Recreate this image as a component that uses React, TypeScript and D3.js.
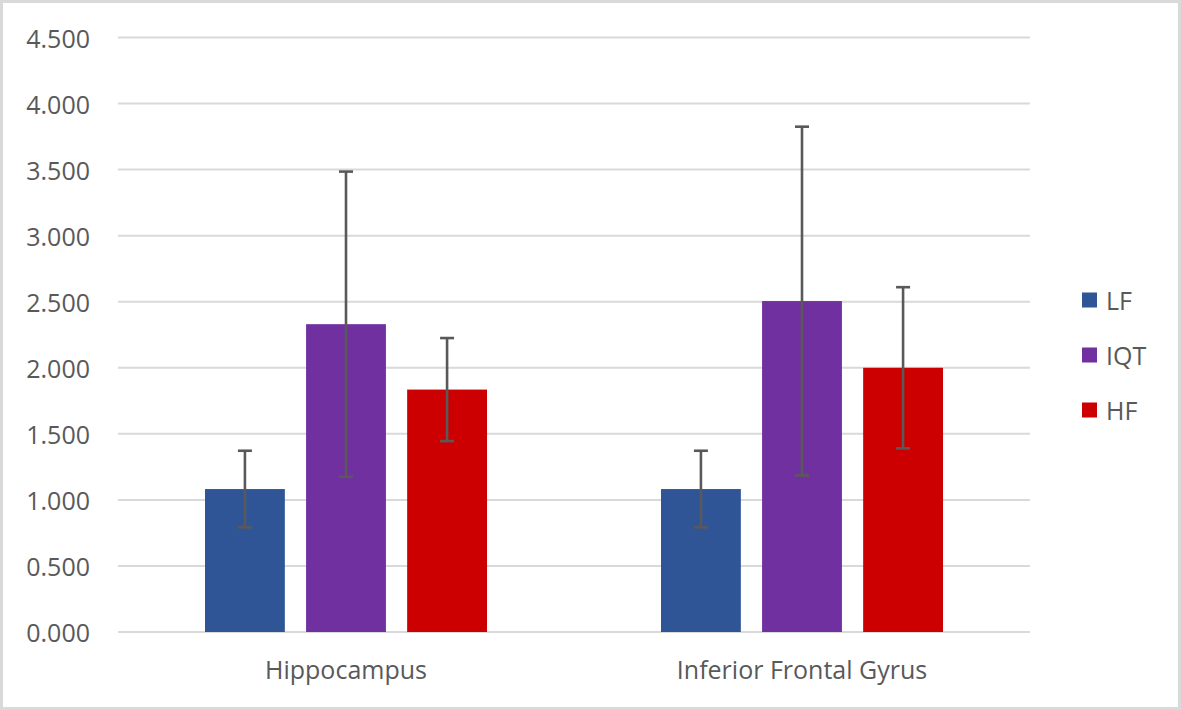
import React from "react";
import * as d3 from "d3";

const categories = ["Hippocampus", "Inferior Frontal Gyrus"];
const seriesNames = ["LF", "IQT", "HF"];
const seriesColors = ["#2F5597", "#7030A0", "#CC0000"];
const valuesLF = [1.082, 1.082];
const valuesIQT = [2.33, 2.505];
const valuesHF = [1.835, 2.0];
const errLF = [0.29, 0.29];
const errIQT = [1.155, 1.32];
const errHF = [0.39, 0.61];
const yTicks = [0, 0.5, 1, 1.5, 2, 2.5, 3, 3.5, 4, 4.5];

const W = 1181;
const H = 710;
const FONT = "'Segoe UI', 'Open Sans', sans-serif";

export default function App() {
  const values = [valuesLF, valuesIQT, valuesHF];
  const errs = [errLF, errIQT, errHF];
  const plotL = 118, plotR = 1030, plotT = 37.5, plotB = 632;
  const y = d3.scaleLinear().domain([0, 4.5]).range([plotB, plotT]);
  const x0 = d3.scaleBand().domain(categories).range([plotL, plotR]);
  const groupW = 282;
  const x1 = d3.scaleBand().domain(seriesNames).range([0, groupW]).paddingInner(0.21);
  const bw = x1.bandwidth();

  return (
    <svg width={W} height={H} style={{ position: "absolute", left: 0, top: 0, background: "#fff" }}>
      <rect x={1.5} y={1.5} width={W - 3} height={H - 3} fill="#fff" stroke="#D9D9D9" strokeWidth={3} />
      {yTicks.map((t) => (
        <g key={t}>
          <line x1={plotL} x2={plotR} y1={y(t)} y2={y(t)} stroke="#D9D9D9" strokeWidth={2} />
          <text x={90} y={y(t)} textAnchor="end" dominantBaseline="central" fontFamily={FONT} fontSize={25} fill="#595959">
            {d3.format(".3f")(t)}
          </text>
        </g>
      ))}
      {categories.map((c, ci) => {
        const gx = (x0(c) as number) + x0.bandwidth() / 2 - groupW / 2;
        return (
          <g key={c}>
            {seriesNames.map((s, si) => {
              const bx = gx + (x1(s) as number);
              const v = values[si][ci];
              return (
                <rect key={s} x={bx} y={y(v)} width={bw} height={y(0) - y(v)} fill={seriesColors[si]} />
              );
            })}
            {seriesNames.map((s, si) => {
              const cx = gx + (x1(s) as number) + bw / 2;
              const v = values[si][ci];
              const e = errs[si][ci];
              return (
                <g key={s} stroke="#595959" strokeWidth={2.6}>
                  <line x1={cx} x2={cx} y1={y(v + e)} y2={y(v - e)} />
                  <line x1={cx - 7} x2={cx + 7} y1={y(v + e)} y2={y(v + e)} />
                  <line x1={cx - 7} x2={cx + 7} y1={y(v - e)} y2={y(v - e)} />
                </g>
              );
            })}
            <text x={(x0(c) as number) + x0.bandwidth() / 2} y={669} textAnchor="middle" dominantBaseline="central" fontFamily={FONT} fontSize={25} fill="#595959">
              {c}
            </text>
          </g>
        );
      })}
      {seriesNames.map((s, si) => {
        const ly = 300 + si * 55;
        return (
          <g key={s}>
            <rect x={1082} y={ly - 7.5} width={15} height={15} fill={seriesColors[si]} />
            <text x={1106} y={ly} dominantBaseline="central" fontFamily={FONT} fontSize={25} fill="#595959">
              {s}
            </text>
          </g>
        );
      })}
    </svg>
  );
}
